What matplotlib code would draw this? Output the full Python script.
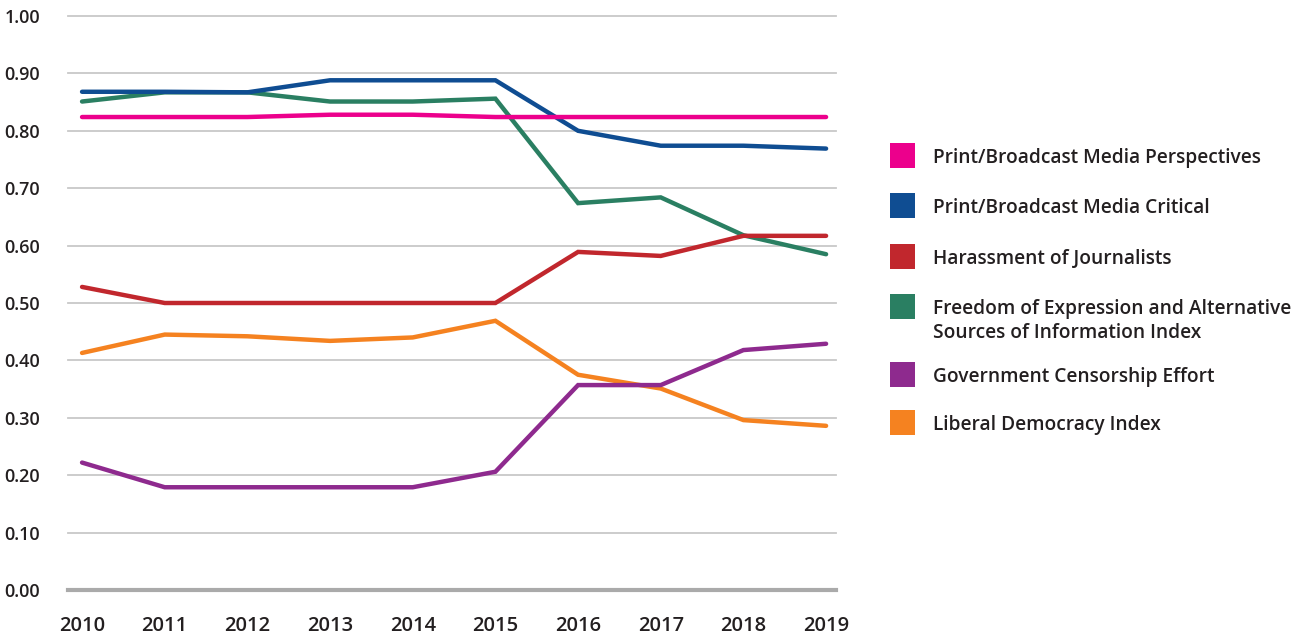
"""Media freedom indicators, 2010-2019: line chart with side legend."""

import matplotlib

matplotlib.use("Agg")
import matplotlib.pyplot as plt
from matplotlib.patches import Rectangle

plt.rcParams["font.family"] = ["Open Sans", "DejaVu Sans"]

years = [2010, 2011, 2012, 2013, 2014, 2015, 2016, 2017, 2018, 2019]

media_perspectives = [0.824, 0.824, 0.824, 0.828, 0.828, 0.824, 0.824, 0.824, 0.824, 0.824]
media_critical = [0.868, 0.868, 0.867, 0.888, 0.888, 0.888, 0.800, 0.774, 0.774, 0.769]
harassment = [0.528, 0.500, 0.500, 0.500, 0.500, 0.500, 0.589, 0.582, 0.617, 0.617]
freedom_expression = [0.851, 0.867, 0.867, 0.851, 0.851, 0.856, 0.674, 0.684, 0.618, 0.585]
censorship = [0.222, 0.179, 0.179, 0.179, 0.179, 0.206, 0.357, 0.357, 0.418, 0.429]
liberal_democracy = [0.413, 0.445, 0.442, 0.434, 0.440, 0.469, 0.375, 0.351, 0.296, 0.286]

series_labels = [
    "Print/Broadcast Media Perspectives",
    "Print/Broadcast Media Critical",
    "Harassment of Journalists",
    "Freedom of Expression and Alternative\nSources of Information Index",
    "Government Censorship Effort",
    "Liberal Democracy Index",
]
series_values = [
    media_perspectives,
    media_critical,
    harassment,
    freedom_expression,
    censorship,
    liberal_democracy,
]
series_colors = ["#EC008C", "#0F4D92", "#C1272D", "#2A7F62", "#8E2A8E", "#F58220"]

y_ticks = [0.0, 0.1, 0.2, 0.3, 0.4, 0.5, 0.6, 0.7, 0.8, 0.9, 1.0]

TEXT = "#231F20"
W, H = 1301, 637

fig = plt.figure(figsize=(W / 100, H / 100), dpi=100)
ax = fig.add_axes([68 / W, (H - 590) / H, (836 - 68) / W, (590 - 16) / H])

for value in y_ticks[1:]:
    ax.axhline(value, color="#C8C8C8", lw=1.3, zorder=1, clip_on=False)
ax.axhline(0.0, color="#AAAAAA", lw=3.0, zorder=1, clip_on=False)

# draw in reverse so the pink line sits on top like the original
for values, color in reversed(list(zip(series_values, series_colors))):
    ax.plot(years, values, color=color, lw=3.2, solid_capstyle="round",
            solid_joinstyle="miter", zorder=3)

ax.set_xlim(2009.83, 2019.12)
ax.set_ylim(0, 1.0)
ax.set_xticks(years)
ax.set_xticklabels([str(y) for y in years], fontweight="semibold")
ax.set_yticks(y_ticks)
ax.set_yticklabels([f"{v:.2f}" for v in y_ticks], fontweight="semibold")
ax.tick_params(axis="x", length=0, pad=19, labelsize=14.5, labelcolor=TEXT)
ax.tick_params(axis="y", length=0, pad=20, labelsize=13, labelcolor=TEXT)
for spine in ax.spines.values():
    spine.set_visible(False)

# legend drawn by hand: squares plus text, one row per series
row_centers = [155.5, 205.5, 256.5, 306.5, 374.5, 422.5]
box = 25
for label, color, yc in zip(series_labels, series_colors, row_centers):
    fig.add_artist(Rectangle((890 / W, (H - yc - box / 2) / H), box / W, box / H,
                             transform=fig.transFigure, facecolor=color, edgecolor="none"))
    for k, line in enumerate(label.split("\n")):
        fig.text(933 / W, (H - yc - k * 23.5) / H, line, fontsize=13.8, color=TEXT,
                 fontweight="semibold", ha="left", va="center_baseline")

fig.savefig("out.png", dpi=100)
